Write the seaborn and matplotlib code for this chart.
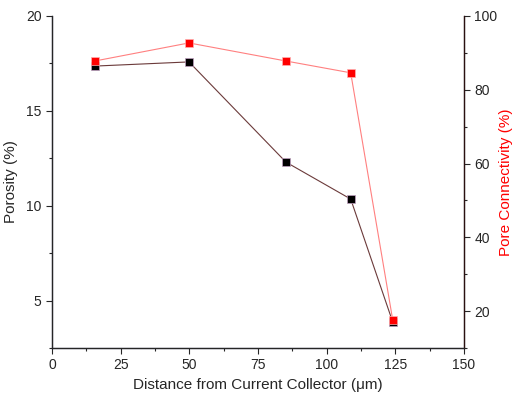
import matplotlib
matplotlib.use("Agg")
import matplotlib.pyplot as plt
import seaborn as sns
import pandas as pd
from matplotlib.ticker import MultipleLocator

distance = [15.6, 49.9, 85.2, 108.8, 124.1]
porosity = [17.36, 17.58, 12.30, 10.35, 3.87]
connectivity = [87.8, 92.7, 87.8, 84.6, 17.6]

sns.set_style("ticks")
plt.rcParams['font.family'] = ['Liberation Sans', 'DejaVu Sans']

df = pd.DataFrame({"distance": distance, "porosity": porosity, "connectivity": connectivity})

fig = plt.figure(figsize=(5.12, 3.96), dpi=100)
ax = fig.add_axes([0.1016, 0.1212, 0.8043, 0.8384])
ax2 = ax.twinx()

sns.lineplot(data=df, x="distance", y="connectivity", ax=ax2, color="#ff8080", lw=0.8,
             marker="s", markersize=6, markerfacecolor="red", markeredgecolor="#ffb0b0",
             markeredgewidth=0.5)
sns.lineplot(data=df, x="distance", y="porosity", ax=ax, color="#6b3a3a", lw=0.8,
             marker="s", markersize=6, markerfacecolor="black", markeredgecolor="#c0a0c0",
             markeredgewidth=0.5, zorder=3)

ax.set_xlim(0, 150)
ax.set_ylim(2.5, 20)
ax2.set_ylim(10, 100)

ax.xaxis.set_major_locator(MultipleLocator(25))
ax.xaxis.set_minor_locator(MultipleLocator(12.5))
ax.yaxis.set_major_locator(MultipleLocator(5))
ax.yaxis.set_minor_locator(MultipleLocator(2.5))
ax2.yaxis.set_major_locator(MultipleLocator(20))
ax2.yaxis.set_minor_locator(MultipleLocator(10))

for a in (ax, ax2):
    a.tick_params(which="major", length=4, width=0.8, labelsize=10, direction="out")
    a.tick_params(which="minor", length=2.5, width=0.8, direction="out")
    for s in a.spines.values():
        s.set_linewidth(0.9)
ax.spines['top'].set_visible(False)
ax2.spines['top'].set_visible(False)
ax.spines['left'].set_color("#1a1a40")
ax2.spines['right'].set_color("#2a1010")
ax.spines['bottom'].set_color("#1a1a40")

ax.set_xlabel("Distance from Current Collector (\u03bcm)", fontsize=11)
ax.set_ylabel("Porosity (%)", fontsize=11, labelpad=6)
ax2.set_ylabel("Pore Connectivity (%)", fontsize=11, color="red", labelpad=1)

fig.savefig("out.png", dpi=100)
